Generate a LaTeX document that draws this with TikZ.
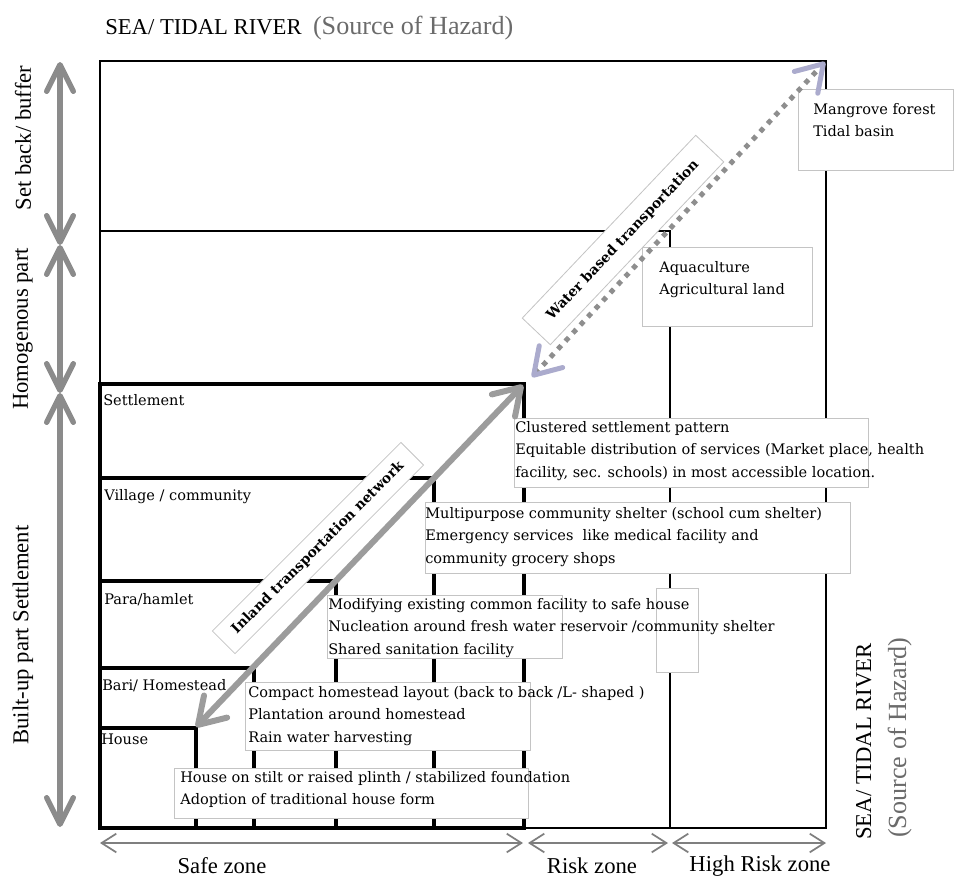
\documentclass[tikz,border=0pt]{standalone}
\usepackage{fontspec}
\setmainfont{Liberation Serif}
\newfontfamily\boxfont{DejaVu Serif}
\usetikzlibrary{arrows.meta}
\definecolor{grey1}{HTML}{8B8B8B}
\definecolor{grey2}{HTML}{7F7F7F}
\definecolor{grey3}{HTML}{9C9C9C}
\definecolor{grey4}{HTML}{8E8E8E}
\definecolor{grey5}{HTML}{C4C4C4}
\definecolor{grey6}{HTML}{6B6B6B}
\definecolor{lilac1}{HTML}{ABABCD}

\begin{document}
\begin{tikzpicture}[x=0.75pt, y=-0.75pt, align=left,
  zone/.style={line width=1.5pt},
  block/.style={line width=2.4pt},
  infobox/.style={draw=grey5, fill=white, line width=0.6pt},
  infotext/.style={anchor=north west, inner sep=0pt, font={\boxfont\fontsize{10.9}{16.9}\selectfont}},
  roadlabel/.style={draw=grey5, fill=white, line width=0.6pt, inner sep=0pt, align=center, font={\boxfont\bfseries\fontsize{10.4}{12}\selectfont}},
  heading/.style={inner sep=0pt, font={\fontsize{17}{20}\selectfont}},
  hazard/.style={text=grey6, font={\fontsize{19.6}{22}\selectfont}},
  partarrow/.style={draw=grey1, line width=4pt, {Straight Barb[length=20pt,width=20pt,round]}-{Straight Barb[length=20pt,width=20pt,round]}},
  zonearrow/.style={draw=grey2, line width=1.3pt, {Straight Barb[length=11pt,width=14pt]}-{Straight Barb[length=11pt,width=14pt]}},
  roadarrow/.style={draw=grey3, line width=4.5pt, {Straight Barb[length=19pt,width=24pt,round]}-{Straight Barb[length=19pt,width=24pt,round]}},
  waterarrow/.style={draw=grey4, line width=3.75pt, dash pattern=on 3.75pt off 4.5pt, {Straight Barb[length=19pt,width=24pt,round,color=lilac1]}-{Straight Barb[length=19pt,width=24pt,round,color=lilac1]}}]
\useasboundingbox (0,0) rectangle (955,878);

\coordinate (buffTop) at (60,62);
\coordinate (buffBot) at (60,245);
\coordinate (homBot) at (60,393);
\coordinate (builtBot) at (60,827);
\coordinate (safeL) at (100,843);
\coordinate (safeR) at (523,843);
\coordinate (riskL) at (528,843);
\coordinate (riskR) at (668,843);
\coordinate (highL) at (672,843);
\coordinate (highR) at (826,843);
\coordinate (houseC) at (196,727);
\coordinate (settleC) at (523,385);
\coordinate (waterLo) at (532,377);
\coordinate (waterHi) at (825,62);

\draw[zone] (100,61) rectangle (826,828);
\draw[zone] (100,231) rectangle (670,828);
\draw[block] (100,384) rectangle (524,828);
\draw[block] (100,478) rectangle (434,828);
\draw[block] (100,581) rectangle (336,828);
\draw[block] (100,668) rectangle (254,828);
\draw[block] (100,728) rectangle (196,828);

\draw[infobox] (798,89) rectangle (953,170);
\draw[infobox] (642,247) rectangle (812,326);
\draw[infobox] (514,418) rectangle (868,487);
\draw[infobox] (425,502) rectangle (850,573);
\draw[infobox] (327,595) rectangle (562,658);
\draw[infobox] (656,588) rectangle (698,672);
\draw[infobox] (245,682) rectangle (530,750);
\draw[infobox] (174,768) rectangle (528,818);

\node[infotext] (mangroveT) at (813,98) {\strut Mangrove forest\\Tidal basin};
\node[infotext] (aquaT) at (659,256) {\strut Aquaculture\\Agricultural land};
\node[infotext] (clusterT) at (515,416) {\strut Clustered settlement pattern\\Equitable distribution of services (Market place, health\\facility, sec. schools) in most accessible location.};
\node[infotext] (shelterT) at (425,502) {\strut Multipurpose community shelter (school cum shelter)\\Emergency services\ \ like medical facility and\\community grocery shops};
\node[infotext] (commonT) at (328,593) {\strut Modifying existing common facility to safe house\\Nucleation around fresh water reservoir /community shelter\\Shared sanitation facility};
\node[infotext] (homeT) at (248,681) {\strut Compact homestead layout (back to back /L- shaped )\\Plantation around homestead\\Rain water harvesting};
\node[infotext] (stiltT) at (180,766) {\strut House on stilt or raised plinth / stabilized foundation\\Adoption of traditional house form};

\node[infotext] (settleT) at (103,389) {\strut Settlement};
\node[infotext] (villageT) at (104,484) {\strut Village / community};
\node[infotext] (paraT) at (104,588) {\strut Para/hamlet};
\node[infotext] (bariT) at (102,674) {\strut Bari/ Homestead};
\node[infotext] (houseT) at (101,728) {\strut House};

\node[heading, anchor=base west] (seaTop) at (105,34) {SEA/ TIDAL RIVER\ \ {\color{grey6}\fontsize{19.6}{22}\selectfont(Source of Hazard)}};
\node[heading, anchor=base west, rotate=90] (seaSide) at (871,840) {SEA/ TIDAL RIVER};
\node[heading, hazard, anchor=base west, rotate=90] (hazSide) at (906,838) {(Source of Hazard)};
\node[heading, rotate=90] (buffT) at (23,138) {Set back/ buffer};
\node[heading, rotate=90] (homT) at (23,329) {Homogenous part};
\node[heading, rotate=90] (builtT) at (23,635) {Built-up part Settlement};
\node[heading] (safeT) at (222,866) {Safe zone};
\node[heading] (riskT) at (592,866) {Risk zone};
\node[heading] (highT) at (760,866) {High Risk zone};

\node[roadlabel, rotate=45, minimum width=200pt, minimum height=24pt] (inlandT) at (318,548) {Inland transportation network};
\node[roadlabel, rotate=46.5, minimum width=189pt, minimum height=29pt] (waterT) at (623,240) {Water based transportation};

\draw[partarrow] (buffTop) -- (buffBot);
\draw[partarrow] (buffBot) -- (homBot);
\draw[partarrow] (homBot) -- (builtBot);
\draw[zonearrow] (safeL) -- (safeR);
\draw[zonearrow] (riskL) -- (riskR);
\draw[zonearrow] (highL) -- (highR);
\draw[roadarrow] (houseC) -- (settleC);
\draw[waterarrow] (waterLo) -- (waterHi);
\end{tikzpicture}
\end{document}
